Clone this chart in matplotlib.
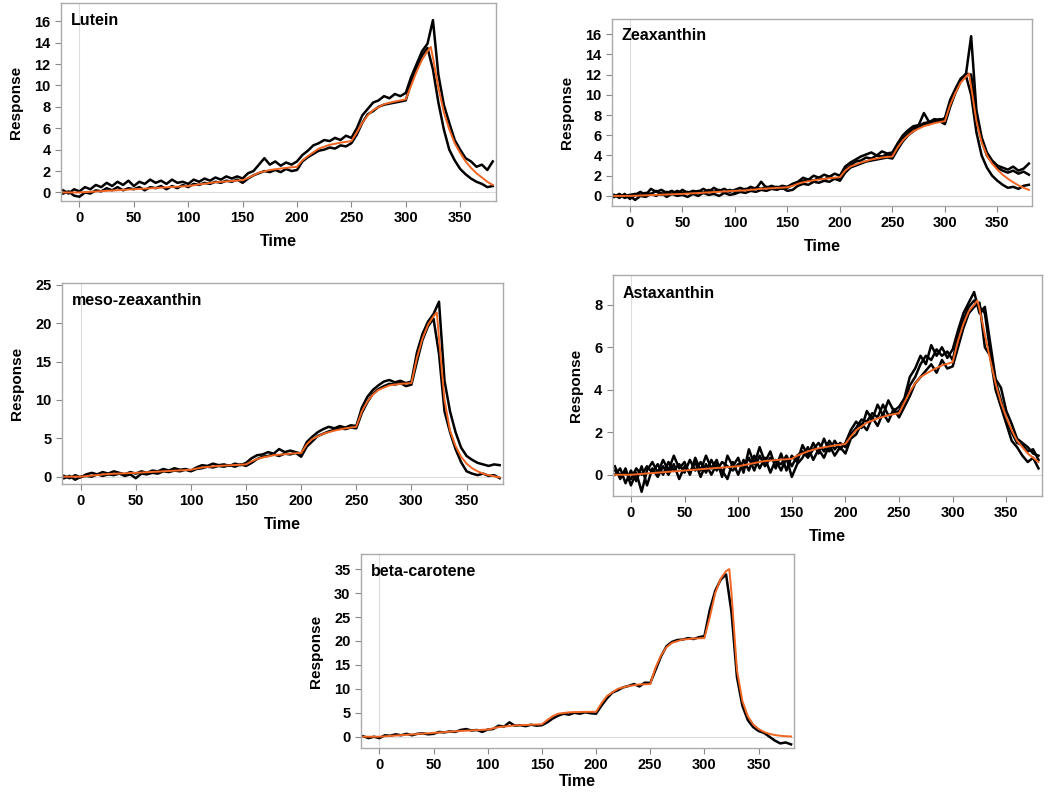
import numpy as np
import matplotlib
matplotlib.use("Agg")
import matplotlib.pyplot as plt

plt.rcParams["font.family"] = ["Liberation Sans", "DejaVu Sans"]
plt.rcParams["font.weight"] = "bold"

# time grid of the measured traces (s)
t = np.arange(-15, 381, 5)

# time points of the fitted model curve (s)
fit_t = [-15, 0, 25, 50, 75, 100, 110, 125, 150, 155, 160, 165, 175, 190,
         200, 205, 210, 220, 230, 240, 250, 255, 260, 265, 270, 280, 290,
         300, 305, 310, 315, 320, 323, 325, 330, 335, 340, 345, 350, 355,
         360, 365, 370, 375, 380]

# ---- Lutein
lutein_fit = [0, 0, 0.15, 0.3, 0.45, 0.6, 0.75, 0.95, 1.15, 1.35, 1.6, 1.85,
              2.1, 2.3, 2.4, 3.0, 3.4, 4.1, 4.45, 4.65, 4.8, 5.6, 6.5, 7.2,
              7.7, 8.25, 8.5, 8.7, 10.0, 11.3, 12.4, 13.2, 13.6, 12.6, 9.8,
              7.5, 5.9, 4.6, 3.7, 2.9, 2.3, 1.8, 1.4, 1.0, 0.7]
lutein_a = [0.2, -0.1, 0.3, 0.1, 0.5, 0.3, 0.7, 0.5, 0.9, 0.6, 1.0, 0.7, 1.1,
            0.6, 1.0, 0.8, 1.2, 0.9, 1.1, 0.8, 1.2, 0.9, 1.0, 0.8, 1.2, 1.0,
            1.3, 1.1, 1.4, 1.2, 1.5, 1.3, 1.5, 1.3, 1.8, 2.0, 2.6, 3.2, 2.6,
            2.9, 2.5, 2.8, 2.6, 2.9, 3.5, 3.9, 4.4, 4.6, 4.9, 4.8, 5.1, 4.9,
            5.3, 5.1, 6.0, 7.2, 7.8, 8.4, 8.6, 9.0, 8.8, 9.2, 9.0, 9.3, 10.8,
            12.0, 13.2, 13.9, 16.1, 11.0, 8.2, 6.5, 4.9, 4.0, 3.2, 2.9, 2.4,
            2.6, 2.1, 2.9]
lutein_b = [-0.1, 0.1, -0.3, -0.4, 0.0, -0.1, 0.2, 0.1, 0.4, 0.2, 0.5, 0.2,
            0.4, 0.3, 0.5, 0.2, 0.5, 0.4, 0.6, 0.3, 0.6, 0.4, 0.7, 0.5, 0.8,
            0.7, 0.9, 0.8, 1.0, 0.9, 1.1, 1.0, 1.2, 0.9, 1.3, 1.6, 1.8, 2.0,
            1.9, 2.1, 1.9, 2.2, 2.0, 2.1, 2.9, 3.3, 3.6, 3.9, 4.0, 4.2, 4.1,
            4.4, 4.3, 4.6, 5.4, 6.5, 7.3, 7.6, 8.0, 8.2, 8.3, 8.4, 8.5, 8.6,
            10.3, 11.6, 12.8, 13.5, 11.5, 8.4, 5.9, 4.0, 3.0, 2.2, 1.7, 1.3,
            1.0, 0.8, 0.5, 0.6]

# ---- Zeaxanthin
zea_fit = [0, 0, 0.1, 0.2, 0.35, 0.5, 0.55, 0.7, 0.85, 1.0, 1.2, 1.35, 1.55,
           1.75, 1.85, 2.5, 2.9, 3.3, 3.6, 3.8, 3.9, 4.8, 5.5, 6.0, 6.4, 6.9,
           7.2, 7.4, 9.0, 10.2, 11.2, 11.8, 12.1, 10.8, 7.4, 5.3, 4.0, 3.2,
           2.6, 2.1, 1.7, 1.35, 1.05, 0.8, 0.6]
zea_a = [0.1, -0.2, 0.2, -0.3, 0.1, 0.4, 0.1, 0.7, 0.4, 0.6, 0.3, 0.5, 0.2,
         0.6, 0.3, 0.5, 0.4, 0.7, 0.4, 0.8, 0.5, 0.7, 0.4, 0.6, 0.8, 0.6, 0.9,
         0.7, 1.4, 0.8, 1.0, 0.8, 1.0, 0.9, 1.2, 1.4, 1.8, 1.6, 2.0, 1.8, 2.1,
         1.9, 2.2, 2.0, 2.9, 3.3, 3.6, 3.9, 4.1, 4.3, 4.0, 4.4, 4.2, 4.3, 5.2,
         6.0, 6.5, 6.9, 7.0, 8.2, 7.3, 7.6, 7.5, 7.7, 9.5, 10.6, 11.6, 12.0,
         15.8, 8.5, 5.8, 4.3, 3.5, 3.0, 2.8, 2.6, 2.9, 2.5, 2.7, 3.2]
zea_b = [-0.1, 0.2, -0.2, 0.0, -0.4, 0.0, -0.1, 0.2, 0.0, 0.3, -0.1, 0.2,
         0.0, 0.1, -0.1, 0.2, 0.0, 0.3, 0.1, 0.2, 0.0, 0.3, 0.1, 0.2, 0.4,
         0.3, 0.5, 0.4, 0.6, 0.5, 0.7, 0.6, 0.8, 0.5, 0.6, 1.0, 1.2, 1.1,
         1.4, 1.3, 1.5, 1.4, 1.7, 1.5, 2.3, 2.8, 3.0, 3.2, 3.4, 3.5, 3.6,
         3.7, 3.8, 3.7, 4.6, 5.4, 6.0, 6.4, 6.8, 7.0, 7.1, 7.3, 7.4, 7.1,
         8.8, 10.2, 11.3, 11.9, 10.0, 6.3, 4.0, 2.8, 2.0, 1.5, 1.1, 0.8, 0.9,
         0.7, 1.0, 1.1]
zea_c = [0.0, 0.1, 0.0, 0.1, 0.2, 0.1, 0.3, 0.2, 0.5, 0.1, 0.4, 0.2, 0.5,
         0.3, 0.4, 0.2, 0.5, 0.3, 0.6, 0.4, 0.6, 0.3, 0.6, 0.4, 0.5, 0.7,
         0.6, 0.8, 0.7, 0.9, 0.8, 0.9, 0.7, 0.8, 1.1, 1.3, 1.5, 1.6, 1.5,
         1.8, 1.6, 1.9, 1.7, 1.8, 2.6, 3.0, 3.4, 3.5, 3.8, 3.7, 4.0, 3.9,
         4.1, 4.0, 4.9, 5.7, 6.2, 6.7, 6.9, 7.2, 7.3, 7.4, 7.6, 7.5, 9.2,
         10.4, 11.5, 12.1, 12.0, 7.8, 5.5, 4.0, 3.3, 2.8, 2.5, 2.3, 2.5, 2.2,
         2.4, 2.1]

# ---- meso-zeaxanthin
meso_fit = [0, 0, 0.35, 0.5, 0.7, 0.9, 1.2, 1.4, 1.6, 2.0, 2.3, 2.5, 2.8,
            3.0, 3.1, 4.2, 4.9, 5.6, 6.0, 6.3, 6.5, 8.5, 9.8, 10.7, 11.3,
            11.9, 12.1, 12.2, 15.5, 18.0, 19.8, 20.9, 21.4, 18.0, 10.0, 6.0,
            4.0, 2.6, 1.7, 1.1, 0.7, 0.4, 0.2, 0.05, -0.1]
meso_a = [0.1, -0.2, 0.2, -0.1, 0.3, 0.5, 0.3, 0.6, 0.4, 0.7, 0.5, 0.3, 0.6,
          0.4, 0.7, 0.5, 0.8, 0.7, 1.0, 0.8, 1.1, 0.9, 1.0, 0.8, 1.2, 1.5,
          1.4, 1.7, 1.5, 1.6, 1.4, 1.7, 1.5, 1.8, 2.4, 2.8, 2.9, 3.2, 3.0,
          3.6, 3.2, 3.4, 3.2, 3.0, 4.5, 5.2, 5.8, 6.2, 6.5, 6.3, 6.6, 6.4,
          6.7, 6.6, 9.0, 10.4, 11.3, 11.9, 12.4, 12.6, 12.3, 12.5, 12.2, 12.4,
          16.2, 18.6, 20.2, 21.2, 22.8, 12.5, 8.5, 5.8, 3.8, 2.7, 2.2, 1.8,
          1.6, 1.4, 1.6, 1.5]
meso_b = [-0.2, 0.1, -0.4, 0.0, 0.1, 0.0, 0.3, 0.1, 0.3, 0.2, 0.4, 0.1, 0.3,
          -0.2, 0.4, 0.3, 0.5, 0.4, 0.7, 0.6, 0.8, 0.7, 0.9, 0.7, 1.0, 1.1,
          1.3, 1.2, 1.4, 1.3, 1.5, 1.3, 1.6, 1.4, 1.8, 2.3, 2.6, 2.7, 2.9,
          2.7, 3.0, 2.9, 3.1, 2.6, 3.9, 4.6, 5.3, 5.6, 5.9, 6.1, 6.3, 6.2,
          6.4, 6.3, 8.3, 9.7, 10.8, 11.4, 11.8, 12.1, 12.0, 12.2, 11.8, 12.0,
          15.0, 17.8, 19.6, 20.6, 16.0, 8.5, 5.8, 3.6, 1.9, 0.7, 0.4, 0.2,
          0.4, 0.1, 0.2, -0.2]

# ---- Astaxanthin
asta_fit = [0, 0, 0.1, 0.2, 0.3, 0.4, 0.5, 0.65, 0.75, 0.9, 1.0, 1.1, 1.25,
            1.38, 1.45, 1.8, 2.1, 2.45, 2.65, 2.8, 2.9, 3.4, 3.9, 4.3, 4.6,
            4.9, 5.15, 5.3, 6.3, 7.1, 7.7, 8.0, 8.2, 7.8, 6.6, 5.4, 4.3, 3.4,
            2.7, 2.1, 1.6, 1.3, 1.0, 0.8, 0.6]
asta_a = [0.4, -0.2, 0.3, -0.5, 0.1, -0.8, 0.2, 0.6, 0.1, 0.7, 0.2, 0.9, 0.3,
          0.6, 0.0, 0.8, 0.2, 0.9, 0.3, 0.7, -0.1, 0.9, 0.4, 0.8, 0.1, 1.2,
          0.5, 1.3, 0.6, 1.1, 0.3, 1.0, 0.2, 0.9, 0.6, 1.4, 0.9, 1.5, 1.0,
          1.7, 1.1, 1.6, 1.2, 1.5, 2.1, 2.5, 2.2, 3.0, 2.6, 3.3, 2.8, 3.5,
          3.0, 3.2, 3.6, 4.6, 5.0, 5.6, 5.2, 6.1, 5.6, 6.0, 5.5, 5.9, 6.8,
          7.6, 8.1, 8.6, 7.6, 7.9, 6.2, 4.5, 4.1, 3.0, 2.4, 1.7, 1.5, 1.3,
          1.0, 0.9]
asta_b = [0.0, 0.3, -0.4, 0.2, -0.3, 0.4, -0.5, 0.3, -0.1, 0.4, 0.0, 0.5,
          -0.2, 0.4, 0.1, 0.6, -0.1, 0.5, 0.0, 0.5, 0.2, -0.2, 0.6, 0.0, 0.7,
          0.2, 0.9, 0.3, 0.8, 0.1, 0.7, 0.2, 0.8, -0.1, 0.5, 0.8, 1.3, 0.7,
          1.2, 0.8, 1.4, 0.9, 1.3, 1.0, 1.7, 1.9, 2.4, 2.1, 2.7, 2.3, 2.9,
          2.5, 3.1, 2.7, 3.2, 3.7, 4.3, 4.6, 4.9, 5.2, 4.8, 5.4, 5.0, 5.1,
          6.0, 6.9, 7.6, 7.9, 8.1, 6.0, 5.6, 4.0, 3.2, 2.4, 1.6, 1.3, 0.9,
          0.6, 0.8, 0.3]
asta_c = [0.2, 0.0, 0.1, -0.2, 0.3, 0.0, 0.4, 0.1, 0.5, 0.0, 0.6, 0.2, 0.5,
          0.1, 0.7, 0.2, 0.6, 0.1, 0.7, 0.2, 0.6, 0.4, 0.2, 0.5, 0.3, 0.8,
          0.2, 0.9, 0.4, 0.8, 0.6, 0.5, 0.9, 0.4, 0.9, 1.1, 0.8, 1.2, 1.5,
          1.1, 1.6, 1.2, 1.5, 1.3, 1.9, 2.2, 2.6, 2.5, 2.9, 2.7, 3.3, 2.8,
          2.9, 3.0, 3.4, 4.2, 4.6, 5.2, 5.6, 5.4, 5.9, 5.6, 5.8, 5.4, 6.5,
          7.3, 7.9, 8.2, 7.9, 7.6, 5.8, 4.4, 3.5, 2.6, 2.0, 1.5, 1.4, 1.1,
          1.2, 0.7]

# ---- beta-carotene
beta_fit = [0, 0, 0.4, 0.8, 1.2, 1.5, 2.0, 2.35, 2.6, 3.5, 4.3, 4.8, 5.1, 5.2,
            5.2, 7.0, 8.5, 10.0, 10.6, 10.9, 11.0, 14.5, 17.0, 18.7, 19.6,
            20.3, 20.5, 20.6, 25.0, 30.0, 33.0, 34.6, 35.0, 30.0, 14.0, 7.5,
            4.3, 2.6, 1.6, 1.0, 0.6, 0.35, 0.2, 0.1, 0.05]
beta_a = [0.1, -0.3, 0.0, -0.3, 0.3, 0.2, 0.5, 0.3, 0.6, 0.3, 0.6, 0.7, 0.5,
          0.6, 1.0, 0.9, 1.1, 1.0, 1.4, 1.6, 1.3, 1.4, 1.0, 1.5, 1.6, 2.3,
          2.1, 3.0, 2.3, 2.4, 2.2, 2.5, 2.3, 2.4, 3.0, 3.8, 4.4, 4.8, 4.6,
          5.0, 4.8, 5.1, 4.9, 4.8, 6.5, 8.0, 9.2, 9.7, 10.3, 10.6, 11.0,
          10.5, 11.3, 11.2, 14.0, 16.8, 18.9, 19.8, 20.2, 20.3, 20.6, 20.4,
          20.8, 21.0, 26.5, 30.5, 32.8, 33.9, 26.0, 12.5, 6.5, 3.5, 2.0, 1.2,
          0.8, 0.0, -0.8, -1.4, -1.2, -1.6]

panels = [
    ("Lutein", lutein_fit, [lutein_a, lutein_b], (-0.8, 17.7),
     [0, 2, 4, 6, 8, 10, 12, 14, 16], [0.0581, 0.7465, 0.4143, 0.2497], 6),
    ("Zeaxanthin", zea_fit, [zea_a, zea_c, zea_b], (-1.0, 17.5),
     [0, 2, 4, 6, 8, 10, 12, 14, 16], [0.5829, 0.7402, 0.4000, 0.2358], 6),
    ("meso-zeaxanthin", meso_fit, [meso_a, meso_b], (-0.95, 25.25),
     [0, 5, 10, 15, 20, 25], [0.0590, 0.3897, 0.4200, 0.2535], 6),
    ("Astaxanthin", asta_fit, [asta_a, asta_b, asta_c], (-1.0, 9.4),
     [0, 2, 4, 6, 8], [0.5835, 0.3745, 0.4086, 0.2787], 6),
    ("beta-carotene", beta_fit, [beta_a], (-2.3, 38.1),
     [0, 5, 10, 15, 20, 25, 30, 35], [0.3438, 0.0571, 0.4127, 0.2439], 1),
]

fig = plt.figure(figsize=(10.5, 7.93), dpi=100)

for name, fit, traces, ylim, yticks, pos, xpad in panels:
    ax = fig.add_axes(pos)
    ax.axvline(0, color="#dddddd", lw=0.8, zorder=0)
    ax.axhline(0, color="#dddddd", lw=0.8, zorder=0)
    for tr in traces:
        ax.plot(t, tr, color="black", lw=1.8)
    ax.plot(fit_t, fit, color="#F26522", lw=1.4)
    ax.set_xlim(-17, 383)
    ax.set_ylim(*ylim)
    ax.set_xticks([0, 50, 100, 150, 200, 250, 300, 350])
    ax.set_yticks(yticks)
    ax.tick_params(labelsize=10.5, color="#888888", length=4, width=0.8)
    for s in ax.spines.values():
        s.set_color("#aaaaaa")
        s.set_linewidth(1.0)
    ax.set_xlabel("Time", fontsize=11.5, fontweight="bold", labelpad=xpad)
    ax.set_ylabel("Response", fontsize=11, fontweight="bold", labelpad=8)
    ax.text(0.022, 0.95, name, transform=ax.transAxes, fontsize=11.5,
            fontweight="bold", va="top", ha="left")

fig.savefig("out.png", dpi=100)
